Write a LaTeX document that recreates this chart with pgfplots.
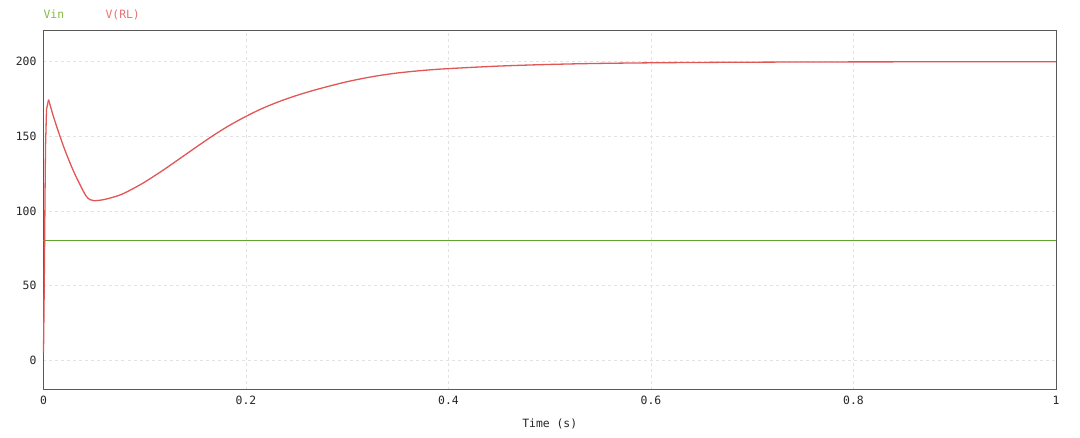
\documentclass[border=0pt]{standalone}
\usepackage{pgfplots}
\pgfplotsset{compat=1.18}
\usepackage{fontspec}
\setmainfont{DejaVu Sans Mono}
\definecolor{vrl}{RGB}{226,86,86}
\definecolor{vin}{RGB}{92,166,46}
\definecolor{vinlbl}{RGB}{130,188,60}
\definecolor{vrllbl}{RGB}{232,112,112}
\definecolor{gridc}{RGB}{226,226,226}
\begin{document}
\begin{tikzpicture}
\path[use as bounding box] (-43.5pt,-48pt) rectangle (1036.5pt,390pt);
\begin{axis}[
  at={(0pt,0pt)}, anchor=south west,
  scale only axis, width=1012.5pt, height=359pt,
  xmin=0, xmax=1, ymin=-20, ymax=220.5,
  xtick={0,0.2,0.4,0.6,0.8,1},
  xticklabels={0,0.2,0.4,0.6,0.8,1},
  ytick={0,50,100,150,200},
  major tick length=0pt,
  grid=major,
  major grid style={gridc, dash pattern=on 3pt off 3pt, line width=0.6pt},
  axis line style={black!65, line width=1pt},
  tick label style={font=\fontsize{11.4}{13}\selectfont, text=black!85},
  /pgf/number format/assume math mode=true,
  yticklabel style={xshift=-3.5pt},
  xticklabel style={yshift=-3pt},
  xlabel={Time (s)},
  xlabel style={font=\fontsize{11.4}{13}\selectfont, text=black!85, yshift=-7pt},
  clip=false,
]
\addplot[vin, line width=1.3pt] coordinates {(0,80) (1,80)};
\addplot[vrl, line width=1.3pt] coordinates {
(0,5) (0.0005,34) (0.001,69) (0.0015,110) (0.002,143) (0.003,168) (0.005,174.5)};
\addplot[vrl, line width=1.3pt, smooth, tension=0.5] coordinates {
(0.005,174.5) (0.010,162.8) (0.016,150.5) (0.022,139.2) (0.029,127.6) (0.036,117.6)
(0.042,110.0) (0.046,107.5) (0.05,106.8) (0.06,107.6)
(0.075,110.5) (0.086,114) (0.1,119.3) (0.118,127.2) (0.135,135.2) (0.151,142.8)
(0.167,150.2) (0.183,157.0) (0.2,163.3) (0.216,168.6) (0.233,173.3) (0.25,177.3)
(0.266,180.6) (0.283,183.7) (0.299,186.4) (0.316,188.8) (0.332,190.7) (0.35,192.4)
(0.375,194.1) (0.4,195.3) (0.45,197) (0.5,198.1) (0.55,198.8) (0.62,199.3)
(0.7,199.6) (0.8,199.8) (1,199.9)};
\node[anchor=base west, text=vinlbl, font=\fontsize{11.4}{13}\selectfont] at (rel axis cs:0,1) [xshift=-3.5pt, yshift=12pt] {Vin};
\node[anchor=base west, text=vrllbl, font=\fontsize{11.4}{13}\selectfont] at (rel axis cs:0,1) [xshift=58.5pt, yshift=12pt] {V(RL)};
\end{axis}
\end{tikzpicture}
\end{document}
